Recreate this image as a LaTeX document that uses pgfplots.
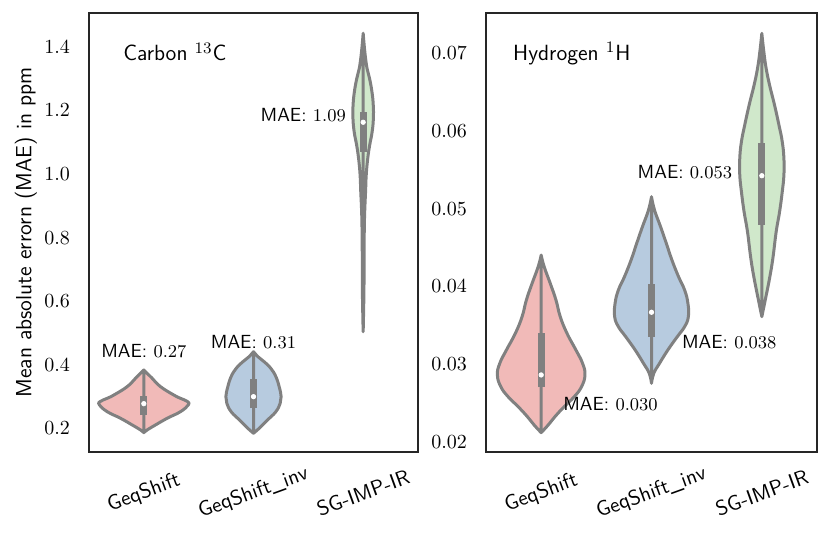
\documentclass[border=0pt]{standalone}
\usepackage{pgfplots}
\usepackage{pgfplotstable}
\pgfplotsset{compat=1.18}
\usepgfplotslibrary{fillbetween}
\renewcommand{\familydefault}{\sfdefault}

\definecolor{pinkc}{RGB}{241,186,184}
\definecolor{bluec}{RGB}{183,203,223}
\definecolor{greenc}{RGB}{208,232,203}
\definecolor{vgray}{RGB}{128,128,128}
\definecolor{framec}{RGB}{38,38,38}

% Carbon violins: y, half-width
\pgfplotstableread{
y w
0.1868 0
0.1953 0.030
0.2110 0.106
0.2321 0.213
0.2528 0.334
0.2739 0.405
0.2843 0.400
0.2948 0.334
0.3053 0.273
0.3315 0.152
0.3578 0.076
0.3736 0.030
0.3840 0
}\cA
\pgfplotstableread{
y w
0.1850 0
0.2006 0.052
0.2267 0.128
0.2528 0.204
0.2790 0.243
0.3000 0.252
0.3315 0.234
0.3630 0.204
0.3890 0.158
0.4100 0.097
0.4258 0.040
0.4415 0
}\cB
\pgfplotstableread{
y w
0.504 0
0.630 0.007
0.735 0.008
0.819 0.010
0.882 0.014
0.945 0.022
0.997 0.028
1.050 0.042
1.092 0.060
1.133 0.082
1.175 0.093
1.217 0.092
1.259 0.080
1.301 0.058
1.333 0.035
1.385 0.015
1.443 0
}\cC
% Hydrogen violins
\pgfplotstableread{
y w
0.02116 0
0.02215 0.064
0.02322 0.125
0.02451 0.209
0.02579 0.300
0.02708 0.366
0.02859 0.397
0.03009 0.375
0.03180 0.315
0.03395 0.234
0.03609 0.173
0.03824 0.134
0.04039 0.082
0.04253 0.027
0.04403 0
}\hA
\pgfplotstableread{
y w
0.02752 0
0.02881 0.021
0.03009 0.073
0.03180 0.148
0.03352 0.234
0.03480 0.300
0.03609 0.334
0.03782 0.330
0.03953 0.300
0.04124 0.245
0.04339 0.185
0.04554 0.134
0.04768 0.082
0.04983 0.027
0.05154 0
}\hB
\pgfplotstableread{
y w
0.03609 0
0.03846 0.034
0.04103 0.070
0.04361 0.100
0.04703 0.130
0.04961 0.161
0.05218 0.185
0.05433 0.200
0.05648 0.200
0.05862 0.185
0.06077 0.155
0.06334 0.115
0.06592 0.070
0.06807 0.039
0.07021 0.018
0.07257 0
}\hC

\newcommand{\violin}[4]{%
  \addplot[name path=#4L, draw=none, forget plot, smooth, tension=0.75] table[x expr=#2-\thisrow{w}, y=y]{#1};
  \addplot[name path=#4R, draw=none, forget plot, smooth, tension=0.75] table[x expr=#2+\thisrow{w}, y=y]{#1};
  \addplot[fill=#3, draw=vgray, line width=1.5pt, line join=round, forget plot] fill between[of=#4L and #4R];
}
\newcommand{\vbx}[6]{%
  \addplot[vgray, line width=1.2pt, forget plot] coordinates {(#1,#2) (#1,#3)};
  \addplot[vgray, line width=3.6pt, forget plot] coordinates {(#1,#4) (#1,#5)};
  \addplot[only marks, mark=*, mark size=1.1pt, white, forget plot] coordinates {(#1,#6)};
}

\pgfplotsset{
  vstyle/.style={
    scale only axis,
    height=219.5pt,
    xmin=-0.5, xmax=2.5,
    xtick={0,1,2},
    xticklabels={GeqShift, GeqShift\_inv, SG-IMP-IR},
    major tick length=0pt,
    axis line style={framec, line width=1.1pt},
    xticklabel style={yshift=-20.5pt, rotate=20, anchor=center, font=\fontsize{10.5}{12}\selectfont},
    yticklabel style={xshift=-6pt, font=\fontsize{10}{12}\selectfont},
    scaled y ticks=false,
    anchor=south west,
  },
}
\tikzset{
  mae/.style={inner sep=0pt, font=\fontsize{9.5}{11}\selectfont},
  ttl/.style={inner sep=0pt, anchor=west, font=\fontsize{11}{13}\selectfont},
}

\begin{document}
\begin{tikzpicture}
\begin{axis}[vstyle,
  at={(44.5pt,44pt)}, width=164.5pt,
  ymin=0.126, ymax=1.5066,
  ytick={0.2,0.4,0.6,0.8,1.0,1.2,1.4},
  yticklabel style={/pgf/number format/.cd, fixed, fixed zerofill, precision=1},
  ylabel={Mean absolute errorn (MAE) in ppm},
  every axis y label/.style={at={(axis description cs:-0.1915,0.5)}, rotate=90, anchor=center, font=\fontsize{11}{13}\selectfont},
]
\violin{\cA}{0}{pinkc}{ca}
\violin{\cB}{1}{bluec}{cb}
\violin{\cC}{2}{greenc}{cc}
\vbx{0}{0.227}{0.316}{0.242}{0.302}{0.278}
\vbx{1}{0.242}{0.386}{0.264}{0.355}{0.300}
\vbx{2}{0.976}{1.243}{1.070}{1.194}{1.163}
\node[mae, anchor=center] at (axis cs:0,0.445) {MAE: $0.27$};
\node[mae, anchor=center] at (axis cs:1,0.473) {MAE: $0.31$};
\node[mae, anchor=east] at (axis cs:1.845,1.186) {MAE: $1.09$};
\node[ttl] at (axis cs:-0.191,1.384) {Carbon $^{13}$C};
\end{axis}
\begin{axis}[vstyle,
  at={(243pt,44pt)}, width=165.5pt,
  ymin=0.01867, ymax=0.07519,
  ytick={0.02,0.03,0.04,0.05,0.06,0.07},
  yticklabel style={/pgf/number format/.cd, fixed, fixed zerofill, precision=2},
]
\violin{\hA}{0}{pinkc}{ha}
\violin{\hB}{1}{bluec}{hb}
\violin{\hC}{2}{greenc}{hc}
\vbx{0}{0.02631}{0.03889}{0.02700}{0.03395}{0.02859}
\vbx{1}{0.03287}{0.04588}{0.03352}{0.04026}{0.03666}
\vbx{2}{0.04425}{0.06441}{0.04790}{0.05841}{0.05424}
\node[mae, anchor=west] at (axis cs:0.197,0.02485) {MAE: $0.030$};
\node[mae, anchor=west] at (axis cs:1.273,0.03287) {MAE: $0.038$};
\node[mae, anchor=east] at (axis cs:1.734,0.05476) {MAE: $0.053$};
\node[ttl] at (axis cs:-0.257,0.0700) {Hydrogen $^{1}$H};
\end{axis}
\path (0,0) rectangle (415pt,270pt);
\end{tikzpicture}
\end{document}
